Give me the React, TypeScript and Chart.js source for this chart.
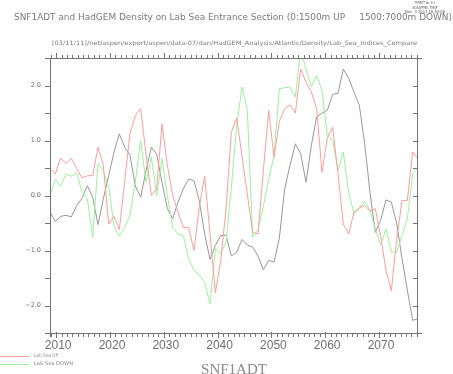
import React, { useEffect, useRef } from "react";
import { Chart, registerables } from "chart.js";

Chart.register(...registerables);

// ---------- data ----------
const labSeaUp = [
  0.5, 0.39, 0.68, 0.58, 0.68, 0.49, 0.32, 0.36, 0.36, 0.88,
  0.55, -0.52, -0.38, -0.62, 0.25, 1.13, 1.45, 1.58, 0.75, 0.0,
  0.12, 1.3, 0.55, 0.0, -0.3, -0.58, -0.58, -1.0, -0.2, 0.35,
  -0.7, -1.77, -1.2, -0.25, 1.15, 1.41, 0.72, 0.02, -0.67, -0.7,
  0.45, 1.55, 0.7, 1.35, 1.58, 1.65, 1.5, 2.3, 2.06, 1.88,
  1.58, 0.42, 1.05, 1.24, 0.4, -0.52, -0.7, -0.3, -0.22, -0.18,
  -0.28, -0.24, -0.75, -1.36, -1.73, -0.8, -0.09, -0.09, 0.79, 0.67,
];
const labSeaDown = [
  0.01, 0.29, 0.17, 0.39, 0.35, 0.41, 0.06, -0.06, -0.76, 0.58,
  0.45, 0.15, -0.55, -0.74, -0.58, -0.36, 0.25, 1.0, 0.24, 0.7,
  0.0, 0.67, 0.0, -0.58, -0.7, -0.73, -1.15, -1.36, -1.45, -1.58,
  -1.97, -0.97, -1.06, -0.85, 0.15, 1.27, 1.97, 1.55, -0.76, -0.62,
  -0.2, 0.3, 0.72, 1.94, 1.96, 1.97, 1.79, 2.65, 2.3, 1.97,
  2.18, 1.91, 1.09, 1.0, 0.45, 0.79, 0.05, -0.33, -0.24, -0.1,
  -0.27, -0.61, -0.9, -0.61, -1.03, -1.03, -0.73, -0.42, 0.39, 0.52,
];
const snf1adt = [
  -0.3, -0.47, -0.38, -0.36, -0.39, -0.18, -0.05, 0.18, -0.03, -0.53,
  -0.06, 0.36, 0.79, 1.12, 0.88, 0.73, 0.17, -0.03, 0.45, 0.88,
  0.75, 0.24, -0.24, -0.42, -0.12, 0.12, 0.3, 0.27, -0.1, -0.7,
  -1.16, -0.91, -0.73, -0.72, -1.1, -1.03, -0.8, -0.9, -0.94, -1.1,
  -1.35, -1.18, -1.21, -0.78, 0.12, 0.55, 0.94, 0.76, 0.24, 0.91,
  1.43, 1.5, 1.55, 1.84, 1.86, 2.3, 2.13, 1.88, 1.64, 0.95,
  0.05, -0.67, -0.45, -0.08, -0.12, -0.5, -1.15, -1.72, -2.27, -2.24,
];
const sampleLabels = labSeaUp.map((_, i) => String(i + 1));

const yearTicks = [2010, 2020, 2030, 2040, 2050, 2060, 2070];
const valueTicks = [-2, -1, 0, 1, 2];
const yearMin = 2008.85;
const yearMax = 2077.25;
const valueMin = -2.5;
const valueMax = 2.5;

const titleText =
  "SNF1ADT and HadGEM Density on Lab Sea Entrance Section (0:1500m UP     1500:7000m DOWN)";
const pathText =
  "[03/11/11]/net/aspen/export/aspen/data-07/dan/HadGEM_Analysis/Atlantic/Density/Lab_Sea_Indices_Compare";
const ferretLines = ["FERRET Ver. 6.1", "NOAA/PMEL TMAP", "Nov  3 2011 16:53:06"];
const legendLabels = ["Lab Sea UP", "Lab Sea DOWN"];
const bottomLabel = "SNF1ADT";

// ---------- styles ----------
const RED = "#ff9c9c";
const GREEN = "#9cf29c";
const GRAY = "#979797";
const AXIS = "#747474";
const TEXT = "#7a7a7a";

function fitText(
  ctx: CanvasRenderingContext2D,
  text: string,
  x: number,
  y: number,
  width: number,
  font: string,
  color: string
) {
  ctx.save();
  ctx.font = font;
  ctx.fillStyle = color;
  ctx.textAlign = "left";
  ctx.textBaseline = "middle";
  const w = ctx.measureText(text).width;
  ctx.translate(x, y);
  ctx.scale(width / w, 1);
  ctx.fillText(text, 0, 0);
  ctx.restore();
}

const decorPlugin = {
  id: "ferretDecor",
  afterDraw(chart: any) {
    const ctx: CanvasRenderingContext2D = chart.ctx;
    const xs = chart.scales.xYear;
    const ys = chart.scales.y;
    const L = Math.round(chart.chartArea.left);
    const R = Math.round(chart.chartArea.right);
    const T = Math.round(chart.chartArea.top);
    const B = Math.round(chart.chartArea.bottom);

    ctx.save();
    ctx.strokeStyle = AXIS;
    ctx.lineWidth = 1;
    const seg = (x1: number, y1: number, x2: number, y2: number) => {
      ctx.beginPath();
      ctx.moveTo(x1, y1);
      ctx.lineTo(x2, y2);
      ctx.stroke();
    };
    // frame
    seg(L - 5, T + 0.5, R + 4, T + 0.5);
    seg(L - 5, B + 0.5, R + 4, B + 0.5);
    seg(L + 0.5, T, L + 0.5, B + 4);
    seg(R - 0.5, T, R - 0.5, B + 4);

    // year ticks (top & bottom)
    for (let yr = Math.ceil(yearMin); yr <= Math.floor(yearMax); yr++) {
      const px = Math.round(xs.getPixelForValue(yr)) + 0.5;
      const major = yr % 10 === 0;
      seg(px, B + (major ? -1 : 0), px, B + (major ? 5 : 4));
      seg(px, T + 1, px, T - (major ? 5 : 3));
    }
    // value ticks (left outward, right inward)
    for (let v = valueMin; v <= valueMax + 1e-9; v += 0.5) {
      const py = Math.round(ys.getPixelForValue(v)) + 0.5;
      seg(L - 5, py, L, py);
      seg(R - 5, py, R, py);
    }
    ctx.restore();

    // texts
    fitText(ctx, titleText, 14, 17.5, 438, "9.5px 'DejaVu Sans'", TEXT);
    fitText(ctx, pathText, 52, 43.5, 365, "6px 'DejaVu Sans'", TEXT);
    const fw = [20, 25, 40];
    ferretLines.forEach((t, i) => {
      fitText(ctx, t, 425 - fw[i] / 2, 3 + i * 4.5, fw[i], "4px 'DejaVu Sans'", "#555");
    });

    // legend
    const legendColors = [RED, GREEN];
    const legendWidths = [24, 39];
    legendLabels.forEach((t, i) => {
      const y = 356.5 + i * 8;
      ctx.save();
      ctx.strokeStyle = legendColors[i];
      ctx.lineWidth = 1;
      ctx.beginPath();
      ctx.moveTo(0, y);
      ctx.lineTo(29, y);
      ctx.stroke();
      ctx.restore();
      fitText(ctx, t, 34, y - 0.5, legendWidths[i], "5px 'DejaVu Sans'", "#888");
    });

    // bottom label
    ctx.save();
    ctx.font = "15px 'Liberation Serif'";
    ctx.fillStyle = "#8a8a8a";
    ctx.textAlign = "center";
    ctx.textBaseline = "alphabetic";
    ctx.fillText(bottomLabel, 234, 374);
    ctx.restore();
  },
};

export default function App() {
  const canvasRef = useRef<HTMLCanvasElement | null>(null);

  useEffect(() => {
    const canvas = canvasRef.current;
    if (!canvas) return;
    const chart = new Chart(canvas, {
      type: "line",
      data: {
        labels: sampleLabels,
        datasets: [
          {
            label: legendLabels[0],
            data: labSeaUp,
            borderColor: RED,
            borderWidth: 1,
            pointRadius: 0,
            tension: 0,
            fill: false,
            xAxisID: "x",
            yAxisID: "y",
          },
          {
            label: legendLabels[1],
            data: labSeaDown,
            borderColor: GREEN,
            borderWidth: 1,
            pointRadius: 0,
            tension: 0,
            fill: false,
            xAxisID: "x",
            yAxisID: "y",
          },
          {
            label: bottomLabel,
            data: snf1adt,
            borderColor: GRAY,
            borderWidth: 1,
            pointRadius: 0,
            tension: 0,
            fill: false,
            xAxisID: "x",
            yAxisID: "y",
          },
        ],
      },
      options: {
        responsive: false,
        animation: false,
        devicePixelRatio: 1,
        layout: { padding: { top: 58, right: 35, left: 0, bottom: 0 } },
        plugins: {
          legend: { display: false },
          title: { display: false },
          tooltip: { enabled: false },
        },
        scales: {
          x: {
            type: "category",
            display: false,
            offset: false,
          },
          xYear: {
            type: "linear",
            axis: "x",
            position: "bottom",
            min: yearMin,
            max: yearMax,
            grid: { display: false, drawTicks: false },
            border: { display: false },
            afterBuildTicks: (s: any) => {
              s.ticks = yearTicks.map((v) => ({ value: v }));
            },
            afterFit: (s: any) => {
              s.height = 41;
            },
            ticks: {
              autoSkip: false,
              maxRotation: 0,
              padding: 5,
              labelOffset: 2,
              color: "#6e6e6e",
              font: { family: "'Liberation Sans'", size: 12 },
              callback: (v: any) => String(v),
            },
          },
          y: {
            type: "linear",
            position: "left",
            min: valueMin,
            max: valueMax,
            grid: { display: false, drawTicks: false },
            border: { display: false },
            afterBuildTicks: (s: any) => {
              s.ticks = valueTicks.map((v) => ({ value: v }));
            },
            afterFit: (s: any) => {
              s.width = 50;
            },
            ticks: {
              padding: 9,
              color: "#6e6e6e",
              font: { family: "'DejaVu Sans'", size: 6.5 },
              callback: (v: any) => Number(v).toFixed(1).replace("-", "\u2212"),
            },
          },
        },
      },
      plugins: [decorPlugin],
    });
    return () => chart.destroy();
  }, []);

  return (
    <div style={{ position: "fixed", left: 0, top: 0, width: 453, height: 374, background: "#fff" }}>
      <canvas ref={canvasRef} width={453} height={374} style={{ display: "block" }} />
    </div>
  );
}
